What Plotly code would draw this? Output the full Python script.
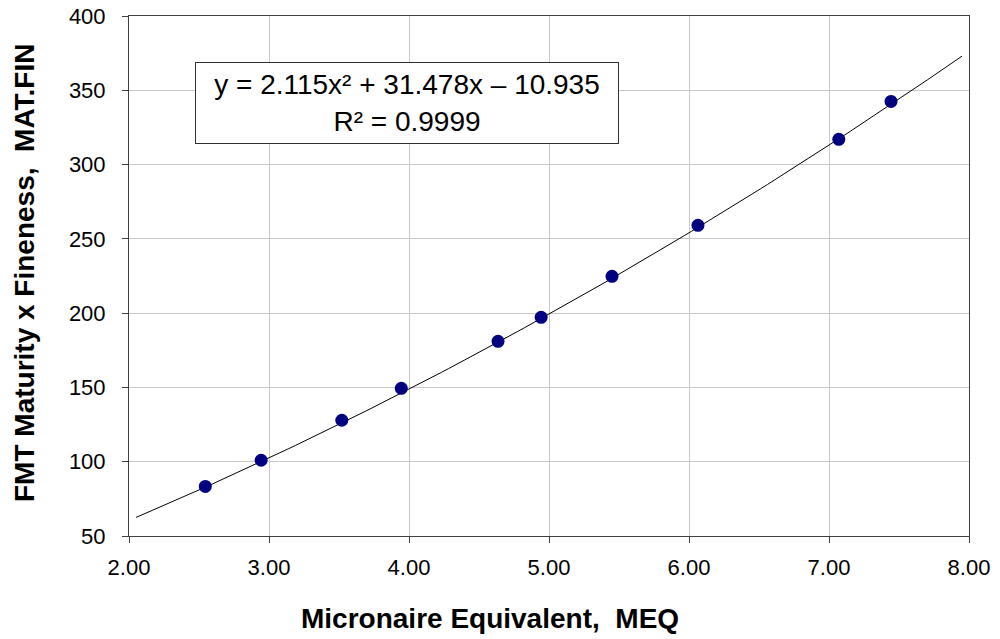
import numpy as np
import plotly.graph_objects as go

meq = [2.545, 2.944, 3.52, 3.945, 4.636, 4.944, 5.45, 6.064, 7.07, 7.443]
matfin = [83.4, 101.0, 127.9, 149.4, 181.0, 197.2, 224.8, 259.1, 317.0, 342.5]

# trendline coefficients as shown in the chart (quadratic)
coef = [2.115, 31.478, -10.935]
trend_x = np.linspace(2.05, 7.95, 120)
trend_y = np.polyval(coef, trend_x)

x_ticks = [2, 3, 4, 5, 6, 7, 8]
x_tick_text = ["2.00", "3.00", "4.00", "5.00", "6.00", "7.00", "8.00"]
y_ticks = [50, 100, 150, 200, 250, 300, 350, 400]

font = "Liberation Sans, Arial, sans-serif"

fig = go.Figure()
fig.add_trace(go.Scatter(x=trend_x, y=trend_y, mode="lines",
                         line=dict(color="black", width=1), hoverinfo="skip"))
fig.add_trace(go.Scatter(x=meq, y=matfin, mode="markers",
                         marker=dict(color="#000080", size=13, line=dict(width=0))))

axis_common = dict(showline=True, linecolor="#404040", linewidth=1, mirror=True,
                   showgrid=True, gridcolor="#c8c8c8", gridwidth=1,
                   ticks="outside", ticklen=6, tickcolor="#404040", tickwidth=1,
                   tickfont=dict(family=font, size=22, color="black"),
                   zeroline=False, automargin=False)

fig.update_layout(
    width=1000, height=639,
    margin=dict(l=129, r=31, t=16, b=103),
    paper_bgcolor="white", plot_bgcolor="white",
    showlegend=False,
    xaxis=dict(range=[2, 8], tickvals=x_ticks, ticktext=x_tick_text,
               ticklabelstandoff=6, **axis_common),
    yaxis=dict(range=[50, 400], tickvals=y_ticks,
               ticklabelstandoff=12, **axis_common),
    annotations=[
        dict(text="<b>Micronaire Equivalent,  MEQ</b>", xref="paper", yref="paper",
             x=(490 - 129) / 840, y=-(619 - 536) / 520, showarrow=False,
             font=dict(family=font, size=28, color="black"),
             xanchor="center", yanchor="middle"),
        dict(text="<b>FMT Maturity x Fineness,  MAT.FIN</b>", xref="paper", yref="paper",
             x=-(129 - 24) / 840, y=(536 - 273) / 520, showarrow=False, textangle=-90,
             font=dict(family=font, size=28, color="black"),
             xanchor="center", yanchor="middle"),
        dict(text="y = 2.115x² + 31.478x – 10.935<br>R² = 0.9999",
             xref="paper", yref="paper",
             x=(407 - 129) / 840, y=(536 - 103) / 520, showarrow=False,
             font=dict(family=font, size=28, color="black"),
             xanchor="center", yanchor="middle", align="center",
             bordercolor="#303030", borderwidth=1, bgcolor="white",
             width=420, height=78),
    ],
)

fig.write_html("out.html")
